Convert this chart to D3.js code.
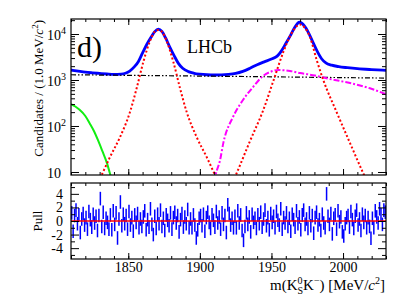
<!DOCTYPE html>
<html>
<head>
<meta charset="utf-8">
<script src="https://cdnjs.cloudflare.com/ajax/libs/d3/7.8.5/d3.min.js"></script>
<style>
  body { margin: 0; background: #fff; }
  text { font-family: "Liberation Serif", "Times New Roman", serif; fill: #000; }
</style>
</head>
<body>
<script>
// values: [mass MeV/c2, candidates per 1 MeV]
const totalFit = [[1810,1650],[1815,1560],[1820,1480],[1825,1430],[1830,1390],[1835,1350],[1840,1320],[1845,1340],
  [1848,1400],[1851,1560],[1854,1900],[1857,2500],[1860,3900],[1863,6000],[1866,8600],[1868.5,11300],[1871,12800],
  [1873.5,11400],[1876,8300],[1879,5200],[1882,3400],[1885,2300],[1888,1800],[1892,1520],[1896,1400],[1900,1340],
  [1905,1300],[1910,1285],[1915,1290],[1920,1320],[1925,1390],[1930,1540],[1935,1800],[1940,2150],[1945,2480],
  [1950,2850],[1954,3300],[1957,4300],[1960,6200],[1963,9000],[1966,13500],[1969.5,18000],[1973,15000],[1976,10500],
  [1979,6600],[1982,4200],[1985,2900],[1988,2350],[1992,2100],[1997,1950],[2003,1850],[2010,1760],[2020,1680],[2030,1620]]
const combBkg = [[1810,1300],[1920,1200],[2030,1100]]
const lowBkg = [[1810,300],[1813,265],[1816,225],[1820,165],[1823,115],[1826,78],[1829,48],[1832,28],[1835,16],[1838,7.5]]
const dplusSig = [[1829,6],[1831.4,8.6],[1837.2,21],[1844.2,57],[1851.2,201],[1855.9,670],[1860.5,2460],[1865.2,7050],
  [1868.3,11050],[1871,12200],[1873.7,11050],[1876.8,7050],[1881.5,2460],[1886.1,670],[1890.8,201],[1897.8,57],
  [1904.8,21],[1910.6,8.6],[1913,6]]
const dsSig = [[1923,6],[1925.7,9.4],[1935,47],[1944.3,223],[1951.3,951],[1958.3,4060],[1963,9050],[1966.5,13500],
  [1969.9,16100],[1973.4,13500],[1976.9,8600],[1981.6,2720],[1986.2,1000],[1995.5,201],[2004.8,43],[2014.1,9.4],[2017,6]]
const partBkg = [[1910,6],[1911,8.6],[1914.1,18],[1916.4,43],[1923.2,158],[1930.1,367],[1937.1,700],[1944.1,1220],
  [1949,1490],[1954.6,1650],[1963,1570],[1969.9,1420],[1980.4,1250],[1990.9,1050],[2004.9,860],[2018.8,660],[2030,490]]

// pull per 1 MeV bin, first bin 1810-1811
const pulls = [
  1.2,-1.5,0.8,1.6,-0.4,0.9,-1.7,0.3,1.1,-0.6,
  0.5,-1.2,1.4,0.2,-0.9,1.0,-0.3,0.7,-1.4,0.8,
  3.3,-0.8,1.3,-1.1,0.4,-0.2,-1.2,0.9,-1.3,1.5,
  -0.5,1.2,-2.5,0.3,2.8,-0.7,1.0,-0.4,0.8,-1.2,
  1.4,-0.6,0.5,-1.5,0.9,-0.2,1.1,-1.0,0.3,-0.8,
  0.6,1.5,-1.3,0.2,-0.9,1.8,-0.5,-2.0,0.7,-1.1,
  1.0,-0.4,1.6,-0.8,0.4,-1.4,0.9,0.1,-0.7,1.2,
  -1.2,0.5,1.3,-0.3,0.8,-1.6,0.2,1.1,-0.9,0.6,
  -0.4,1.7,-1.0,0.3,-1.0,0.9,-0.6,-2.5,-1.3,0.4,
  0.8,-0.7,1.0,-1.5,0.5,1.3,-0.2,-1.1,0.9,0.1,
  -0.9,1.4,-0.3,0.6,-1.2,1.2,-0.5,0.8,-1.7,2.4,
  1.1,-0.6,0.4,-1.0,0.7,-1.0,1.5,-0.3,0.9,-1.4,
  -2.85,-0.8,1.2,-0.5,0.6,-1.6,1.0,-0.2,0.4,-1.1,
  0.9,-0.4,1.3,-0.9,0.3,1.6,-0.7,0.5,-1.3,1.1,
  -0.2,0.7,-1.0,1.4,0.1,-0.6,1.8,-1.2,0.5,-0.3,
  1.2,-0.8,0.4,-1.5,1.0,0.2,-0.9,1.5,-0.4,0.6,
  -1.3,0.9,1.6,-0.5,0.3,-1.1,1.2,-0.7,0.8,-1.8,
  0.5,1.3,-0.6,0.2,-1.4,1.0,-0.3,-1.0,4.0,0.7,
  -0.5,1.1,-1.9,0.4,0.9,-1.2,1.5,-0.1,0.6,-1.6,
  -2.2,-0.4,0.5,0.8,-0.9,1.4,0.2,-1.1,0.7,1.6,
  -0.6,0.3,-1.4,1.0,-0.2,0.8,-1.0,0.5,-0.8,-2.55,
  0.4,-1.0,1.5,0.6,-0.3,1.8,0.9,-0.5,1.6,1.3]

const xMajor = [1850, 1900, 1950, 2000]
const xMinor = d3.range(1810, 2031, 10)
const yMajor = [10, 100, 1000, 10000]
const yMinor = [20,30,40,50,60,70,80,90,200,300,400,500,600,700,800,900,2000,3000,4000,5000,6000,7000,8000,9000,20000]
const pullMajor = [-4, -2, 0, 2, 4]
const pullMinor = [-5, -3, -1, 1, 3, 5]

const W = 409, H = 298
const L = 71, R = 386
const top1 = 19, bot1 = 175, top2 = 183, bot2 = 259

const svg = d3.select("body").append("svg").attr("width", W).attr("height", H)

const x = d3.scaleLinear().domain([1810, 2030]).range([L, R])
const y = d3.scaleLog().domain([8.6, 21200]).range([bot1, top1])
const yp = d3.scaleLinear().domain([-5.6, 5.6]).range([bot2, top2])

svg.append("clipPath").attr("id", "clipTop").append("rect")
  .attr("x", L).attr("y", top1).attr("width", R - L).attr("height", bot1 - top1)

function ticks(axisFn, scale, vals, size, tx, ty) {
  svg.append("g").attr("transform", "translate(" + tx + "," + ty + ")")
    .call(axisFn(scale).tickValues(vals).tickSize(size).tickFormat(""))
    .call(g => g.select(".domain").remove())
    .selectAll("line").attr("stroke", "#000").attr("stroke-width", 1)
}

// ---- top panel ----
const line = d3.line().x(d => x(d[0])).y(d => y(d[1])).curve(d3.curveMonotoneX)
const plot = svg.append("g").attr("clip-path", "url(#clipTop)")

plot.append("path").datum(totalFit).attr("d", line)
  .attr("fill", "none").attr("stroke", "#0000ff").attr("stroke-width", 2.8)
plot.append("path").datum(combBkg).attr("d", line)
  .attr("fill", "none").attr("stroke", "#000").attr("stroke-width", 1.2).attr("stroke-dasharray", "5,2,1.5,2,1.5,2")
plot.append("path").datum(lowBkg).attr("d", line)
  .attr("fill", "none").attr("stroke", "#11ee11").attr("stroke-width", 2)
plot.append("path").datum(partBkg).attr("d", line)
  .attr("fill", "none").attr("stroke", "#ff00ff").attr("stroke-width", 2).attr("stroke-dasharray", "6,2,2,2")
;[dplusSig, dsSig].forEach(s => {
  plot.append("path").datum(s).attr("d", line)
    .attr("fill", "none").attr("stroke", "#ff0000").attr("stroke-width", 2).attr("stroke-dasharray", "2,2.2")
})

ticks(d3.axisBottom, x, xMajor, -6, 0, bot1)
ticks(d3.axisBottom, x, xMinor, -3, 0, bot1)
ticks(d3.axisTop, x, xMajor, -6, 0, top1)
ticks(d3.axisTop, x, xMinor, -3, 0, top1)
ticks(d3.axisLeft, y, yMajor, -8, L, 0)
ticks(d3.axisLeft, y, yMinor, -4, L, 0)
ticks(d3.axisRight, y, yMajor, -8, R, 0)
ticks(d3.axisRight, y, yMinor, -4, R, 0)

svg.append("g").attr("transform", "translate(" + L + ",0)")
  .call(d3.axisLeft(y).tickValues(yMajor).tickSize(0))
  .call(g => g.select(".domain").remove())
  .selectAll(".tick text")
  .attr("font-size", 14).attr("text-anchor", "start").attr("x", -24).attr("dy", "0.36em")
  .each(function (d) {
    const e = Math.round(Math.log10(d))
    const t = d3.select(this).text("")
    t.append("tspan").text("10")
    if (e > 1) t.append("tspan").attr("dy", -6).attr("font-size", 10).text(e)
  })

svg.append("rect").attr("x", L).attr("y", top1).attr("width", R - L).attr("height", bot1 - top1)
  .attr("fill", "none").attr("stroke", "#000").attr("stroke-width", 1.2)

svg.append("text").attr("x", 77).attr("y", 57).attr("font-size", 30).text("d)")
svg.append("text").attr("x", 187).attr("y", 53).attr("font-size", 18).text("LHCb")

const yt = svg.append("text").attr("transform", "translate(43,20) rotate(-90)")
  .attr("text-anchor", "end").attr("font-size", 13)
yt.append("tspan").text("Candidates / (1.0 MeV/")
yt.append("tspan").attr("font-style", "italic").text("c")
yt.append("tspan").attr("dy", -5).attr("font-size", 9).text("2")
yt.append("tspan").attr("dy", 5).text(")")

// ---- pull panel ----
const pg = svg.append("g")
pg.selectAll("line.pull").data(pulls).join("line").attr("class", "pull")
  .attr("x1", (d, i) => x(1810.5 + i)).attr("x2", (d, i) => x(1810.5 + i))
  .attr("y1", d => yp(d - 1)).attr("y2", d => yp(d + 1))
  .attr("stroke", "#0000ff").attr("stroke-width", 1.5)
pg.append("line").attr("x1", L).attr("x2", R).attr("y1", yp(0)).attr("y2", yp(0))
  .attr("stroke", "#ff0000").attr("stroke-width", 1.6)

ticks(d3.axisBottom, x, xMajor, -6, 0, bot2)
ticks(d3.axisBottom, x, xMinor, -3, 0, bot2)
ticks(d3.axisTop, x, xMajor, -6, 0, top2)
ticks(d3.axisTop, x, xMinor, -3, 0, top2)
ticks(d3.axisLeft, yp, pullMajor, -8, L, 0)
ticks(d3.axisLeft, yp, pullMinor, -4, L, 0)
ticks(d3.axisRight, yp, pullMajor, -8, R, 0)
ticks(d3.axisRight, yp, pullMinor, -4, R, 0)

svg.append("g").attr("transform", "translate(" + L + ",0)")
  .call(d3.axisLeft(yp).tickValues(pullMajor).tickSize(0).tickPadding(8).tickFormat(d => d < 0 ? "-" + (-d) : d))
  .call(g => g.select(".domain").remove())
  .selectAll(".tick text").attr("font-size", 14)

svg.append("g").attr("transform", "translate(0," + bot2 + ")")
  .call(d3.axisBottom(x).tickValues(xMajor).tickSize(0).tickPadding(3).tickFormat(d3.format("d")))
  .call(g => g.select(".domain").remove())
  .selectAll(".tick text").attr("font-size", 14)

svg.append("rect").attr("x", L).attr("y", top2).attr("width", R - L).attr("height", bot2 - top2)
  .attr("fill", "none").attr("stroke", "#000").attr("stroke-width", 1.2)

svg.append("text").attr("transform", "translate(42,221) rotate(-90)")
  .attr("text-anchor", "middle").attr("font-size", 13).text("Pull")

const xt = svg.append("text").attr("x", 385).attr("y", 290).attr("text-anchor", "end").attr("font-size", 15)
xt.append("tspan").text("m(K")
xt.append("tspan").attr("dy", -6).attr("font-size", 10).text("0")
xt.append("tspan").attr("dx", -5).attr("dy", 10).attr("font-size", 10).text("S")
xt.append("tspan").attr("dy", -4).text("K")
xt.append("tspan").attr("dy", -6).attr("font-size", 10).text("\u2212")
xt.append("tspan").attr("dy", 6).text(") [MeV/")
xt.append("tspan").attr("font-style", "italic").text("c")
xt.append("tspan").attr("dy", -6).attr("font-size", 10).text("2")
xt.append("tspan").attr("dy", 6).text("]")
</script>
</body>
</html>
